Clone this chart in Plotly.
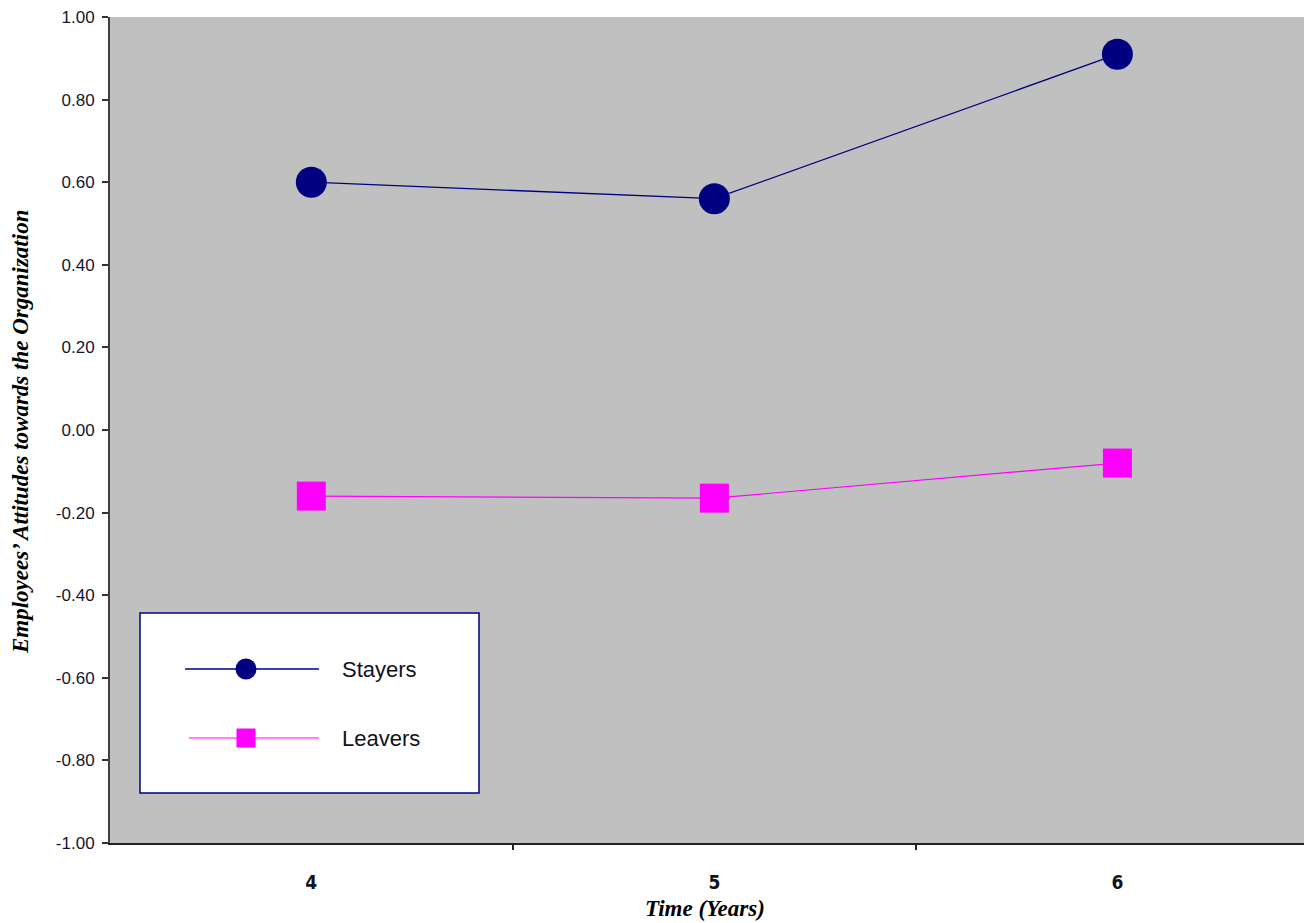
import plotly.graph_objects as go

# Data
years = ["4", "5", "6"]
stayers = [0.60, 0.56, 0.91]
leavers = [-0.16, -0.165, -0.08]
y_ticks = [-1.0, -0.8, -0.6, -0.4, -0.2, 0.0, 0.2, 0.4, 0.6, 0.8, 1.0]

NAVY = "#000080"
MAGENTA = "#FF00FF"
W, H = 1304, 923
L, T, B = 110, 17, 80
PW, PH = W - L, H - T - B


def px(x):
    return (x - L) / PW


def py(y):
    return (H - B - y) / PH


fig = go.Figure()
fig.add_trace(go.Scatter(
    x=years, y=stayers, name="Stayers", mode="lines+markers",
    line=dict(color=NAVY, width=1.3),
    marker=dict(symbol="circle", size=31, color=NAVY, line=dict(width=0)),
))
fig.add_trace(go.Scatter(
    x=years, y=leavers, name="Leavers", mode="lines+markers",
    line=dict(color=MAGENTA, width=1.2),
    marker=dict(symbol="square", size=29, color=MAGENTA, line=dict(width=0)),
))

shapes = [
    # legend box
    dict(type="rect", xref="paper", yref="paper",
         x0=px(140), x1=px(479), y0=py(793), y1=py(613),
         fillcolor="white", line=dict(color=NAVY, width=1.5), layer="above"),
    dict(type="line", xref="paper", yref="paper",
         x0=px(185), x1=px(319), y0=py(669), y1=py(669),
         line=dict(color=NAVY, width=1.3), layer="above"),
    dict(type="circle", xref="paper", yref="paper",
         x0=px(235.5), x1=px(256.5), y0=py(679.5), y1=py(658.5),
         fillcolor=NAVY, line=dict(width=0), layer="above"),
    dict(type="line", xref="paper", yref="paper",
         x0=px(189), x1=px(319), y0=py(738), y1=py(738),
         line=dict(color=MAGENTA, width=1.2), layer="above"),
    dict(type="rect", xref="paper", yref="paper",
         x0=px(236.5), x1=px(255.5), y0=py(747.5), y1=py(728.5),
         fillcolor=MAGENTA, line=dict(width=0), layer="above"),
]

annotations = [
    dict(text="Stayers", xref="paper", yref="paper", x=px(340), y=py(669),
         xanchor="left", yanchor="middle", showarrow=False,
         font=dict(family="Arial, Liberation Sans", size=22, color="#111122")),
    dict(text="Leavers", xref="paper", yref="paper", x=px(340), y=py(738),
         xanchor="left", yanchor="middle", showarrow=False,
         font=dict(family="Arial, Liberation Sans", size=22, color="#111122")),
    dict(text="<b><i>Time (Years)</i></b>", xref="paper", yref="paper",
         x=px(705), y=py(908), xanchor="center", yanchor="middle", showarrow=False,
         font=dict(family="Times New Roman, Liberation Serif", size=23, color="#000000")),
    dict(text="<b><i>Employees’ Attitudes towards the Organization</i></b>",
         xref="paper", yref="paper", x=px(20), y=py(432), textangle=-90,
         xanchor="center", yanchor="middle", showarrow=False,
         font=dict(family="Times New Roman, Liberation Serif", size=23, color="#000000")),
]

fig.update_layout(
    width=W, height=H,
    margin=dict(l=L, r=0, t=T, b=B, autoexpand=False),
    paper_bgcolor="white", plot_bgcolor="#C0C0C0",
    showlegend=False,
    shapes=shapes, annotations=annotations,
    xaxis=dict(
        type="category", range=[-0.4995, 2.463],
        tickson="boundaries", ticks="outside", ticklen=5, tickwidth=1.5,
        tickcolor="#222222", showgrid=False, zeroline=False,
        showline=True, linecolor="#222222", linewidth=2,
        ticklabelstandoff=21,
        tickfont=dict(family="Liberation Sans Narrow, DejaVu Sans Condensed, Arial",
                      size=19, color="#111122", weight="bold"),
    ),
    yaxis=dict(
        range=[-1, 1], tickvals=y_ticks,
        ticktext=[f"{v:.2f}" for v in y_ticks],
        ticks="outside", ticklen=6, tickwidth=1.5, tickcolor="#333333",
        showgrid=False, zeroline=False,
        showline=True, linecolor="#404040", linewidth=2,
        ticklabelstandoff=4,
        tickfont=dict(family="Arial, Liberation Sans", size=17, color="#151530"),
    ),
)

fig.write_html("out.html")
